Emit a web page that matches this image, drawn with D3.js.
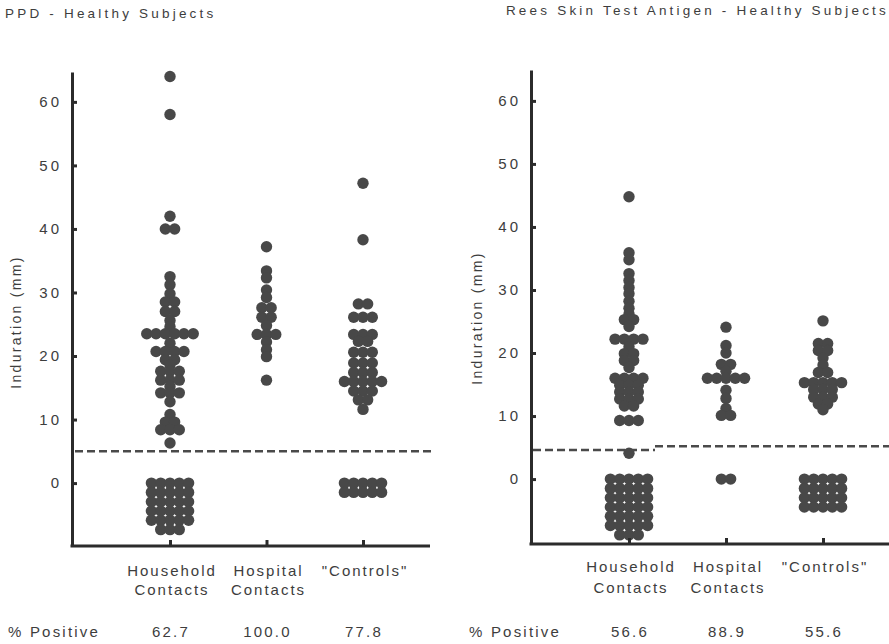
<!DOCTYPE html>
<html>
<head>
<meta charset="utf-8">
<script src="https://cdn.jsdelivr.net/npm/d3@7"></script>
<style>
    body { margin: 0; background: #fff; }
    svg text { font-family: "Liberation Sans", Arial, Helvetica, sans-serif; fill: #3d3d3d; }
</style>
</head>
<body>
<div class="container"></div>
<script>
/*
Dot plots of skin test induration (mm) for healthy subjects,
PPD on the left and Rees antigen on the right.
Zero readings are stacked in a grid below the 0 line.
*/

const width = 889;
const height = 644;

const groups = ['Household', 'Hospital', 'Controls'];
const groupLabels = [['Household', 'Contacts'], ['Hospital', 'Contacts'], ['"Controls"']];
const yTicks = [0, 10, 20, 30, 40, 50, 60];
const cutoff = 5;

// PPD readings (mm)
const ppdHousehold = [64, 58, 42, 40, 40, 32.5, 31.2, 29.8, 28.5, 28.5, 27, 27, 25.6, 24.6,
    23.5, 23.5, 23.5, 23.5, 23.5, 23.5, 22, 20.7, 20.7, 20.7, 20.7, 19.4, 19.4, 18.6,
    17.6, 17.6, 17.6, 16.2, 16.2, 16.2, 15.2, 14.2, 14.2, 14.2, 12.8, 10.8, 9.6, 9.6,
    8.4, 8.4, 8.4, 6.3,
    0, 0, 0, 0, 0, 0, 0, 0, 0, 0, 0, 0, 0, 0, 0, 0, 0, 0, 0, 0, 0, 0, 0, 0, 0, 0, 0, 0];
const ppdHospital = [37.2, 33.4, 32.3, 30.4, 29.2, 27.6, 27.6, 26.1, 26.1, 24.8, 23.4, 23.4,
    23.4, 22.2, 21, 19.9, 16.2];
const ppdControls = [47.2, 38.3, 28.2, 28.2, 26.1, 26.1, 26.1, 23.4, 23.4, 23.4, 22.3, 22.3,
    20.6, 20.6, 20.6, 18.9, 18.9, 18.9, 17.4, 17.4, 17.4, 16, 16, 16, 16, 16,
    14.5, 14.5, 14.5, 13.1, 13.1, 11.6,
    0, 0, 0, 0, 0, 0, 0, 0, 0, 0];
const ppdPositive = ['62.7', '100.0', '77.8'];

// Rees antigen readings (mm)
const reesHousehold = [44.8, 35.9, 34.8, 32.6, 31.5, 30.4, 29.4, 28.2, 27.1, 26.2, 25.3, 25.3,
    24.2, 22.2, 22.2, 22.2, 22.2, 21, 19.9, 19.9, 18.8, 18.8, 17.7, 16, 16, 16, 16,
    14.9, 14.9, 14.9, 13.8, 13.8, 13.8, 12.7, 12.7, 12.7, 11.6, 11.6, 9.3, 9.3, 9.3, 4.1,
    0, 0, 0, 0, 0, 0, 0, 0, 0, 0, 0, 0, 0, 0, 0, 0, 0, 0, 0, 0, 0, 0, 0, 0, 0, 0, 0, 0, 0, 0, 0, 0, 0];
const reesHospital = [24.1, 21.2, 20, 18.2, 18.2, 17.1, 16, 16, 16, 16, 16, 14.1, 12.8, 11.2,
    10.1, 10.1, 0, 0];
const reesControls = [25.1, 21.5, 21.5, 20.4, 20.4, 19.2, 18.1, 16.9, 16.9, 15.3, 15.3, 15.3,
    15.3, 15.3, 14.2, 14.2, 14.2, 13, 13, 13, 11.9, 11.9, 11,
    0, 0, 0, 0, 0, 0, 0, 0, 0, 0, 0, 0, 0, 0, 0, 0, 0, 0, 0, 0];
const reesPositive = ['56.6', '88.9', '55.6'];
// the printed cutoff line steps slightly between the first and second group
const reesCutoff = [4.6, 5.2];

const r = 5.7;
const step = 9.3;
const cols = 5;
const ink = '#2b2b2b';
const dotColor = '#484848';

const panels = [
    {
        title: 'PPD - Healthy Subjects', titleX: 5, titleY: 18, titleAnchor: 'start',
        axisX: 72, xEnd: 430, top: 72, bottom: 546, yDomain: [-9.9, 64.7],
        centers: [170, 363], data: [ppdHousehold, ppdHospital, ppdControls],
        positive: ppdPositive, labelY: [576, 595], posLabelX: 8, posY: 637, yLabelX: 21, yLabelY: 322,
        cutoffs: [{ v: cutoff, x0: 75, x1: 432 }],
    },
    {
        title: 'Rees Skin Test Antigen - Healthy Subjects', titleX: 889, titleY: 15, titleAnchor: 'end',
        axisX: 531, xEnd: 889, top: 70, bottom: 544, yDomain: [-10.3, 64.9],
        centers: [629, 823], data: [reesHousehold, reesHospital, reesControls],
        positive: reesPositive, labelY: [572, 593], posLabelX: 469, posY: 637, yLabelX: 482, yLabelY: 318,
        cutoffs: [{ v: reesCutoff[0], x0: 533, x1: 655 }, { v: reesCutoff[1], x0: 655, x1: 889 }],
    },
];

function layoutDots(values, cx, y) {
    const pts = [];
    d3.group(values.filter(v => v > 0), v => v).forEach((arr, v) => {
        arr.forEach((_, i) => pts.push({ x: cx + (i - (arr.length - 1) / 2) * step, y: y(v) }));
    });
    const zeros = values.filter(v => v === 0);
    zeros.forEach((_, i) => {
        const row = Math.floor(i / cols);
        const col = i % cols;
        const inRow = Math.min(cols, zeros.length - row * cols);
        pts.push({ x: cx + (col - (inRow - 1) / 2) * step, y: y(0) + row * step });
    });
    return pts;
}

function drawPanel(svg, p) {
    const y = d3.scaleLinear().domain(p.yDomain).range([p.bottom, p.top]);
    const x = d3.scalePoint().domain(groups).range(p.centers);
    const g = svg.append('g');

    g.append('text')
        .attr('x', p.titleX).attr('y', p.titleY)
        .attr('text-anchor', p.titleAnchor)
        .attr('font-size', 13.5).attr('letter-spacing', 3.2)
        .text(p.title);

    // cutoff line
    p.cutoffs.forEach(c => {
        g.append('line')
            .attr('x1', c.x0).attr('x2', c.x1)
            .attr('y1', y(c.v)).attr('y2', y(c.v))
            .attr('stroke', '#4a4a4a').attr('stroke-width', 2.5)
            .attr('stroke-dasharray', '8,4');
    });

    // dots
    groups.forEach((grp, i) => {
        g.selectAll(null)
            .data(layoutDots(p.data[i], x(grp), y))
            .enter()
            .append('circle')
            .attr('cx', d => d.x)
            .attr('cy', d => d.y)
            .attr('r', r)
            .attr('fill', dotColor);
    });

    // y axis
    g.append('g')
        .attr('transform', `translate(${p.axisX},0)`)
        .call(d3.axisLeft(y).tickValues(yTicks).tickSize(-5).tickSizeOuter(0).tickPadding(10))
        .call(a => a.select('.domain').attr('stroke', ink).attr('stroke-width', 3))
        .call(a => a.selectAll('.tick line').attr('stroke', ink).attr('stroke-width', 3))
        .call(a => a.selectAll('.tick text').attr('font-size', 15).attr('letter-spacing', 3));

    // x axis
    g.append('line')
        .attr('x1', p.axisX - 1.5).attr('x2', p.xEnd)
        .attr('y1', p.bottom).attr('y2', p.bottom)
        .attr('stroke', ink).attr('stroke-width', 3);
    g.append('g')
        .attr('transform', `translate(0,${p.bottom})`)
        .call(d3.axisBottom(x).tickSize(-6).tickSizeOuter(0).tickFormat(''))
        .call(a => a.select('.domain').remove())
        .call(a => a.selectAll('.tick line').attr('stroke', ink).attr('stroke-width', 3));

    // category labels and % positive
    groups.forEach((grp, i) => {
        groupLabels[i].forEach((line, j) => {
            g.append('text')
                .attr('x', x(grp) + 2)
                .attr('y', p.labelY[j])
                .attr('text-anchor', 'middle')
                .attr('font-size', 15).attr('letter-spacing', 2)
                .text(line);
        });
        g.append('text')
            .attr('x', x(grp) + 1)
            .attr('y', p.posY)
            .attr('text-anchor', 'middle')
            .attr('font-size', 15).attr('letter-spacing', 2.2)
            .text(p.positive[i]);
    });

    g.append('text')
        .attr('x', p.posLabelX).attr('y', p.posY)
        .attr('font-size', 15).attr('letter-spacing', 2.2)
        .text('% Positive');

    g.append('text')
        .attr('transform', `translate(${p.yLabelX},${p.yLabelY}) rotate(-90)`)
        .attr('text-anchor', 'middle')
        .attr('font-size', 14).attr('letter-spacing', 2.3)
        .text('Induration (mm)');
}

function draw() {
    const svg = d3.select('.container')
        .append('svg')
        .attr('width', width)
        .attr('height', height);

    panels.forEach(p => drawPanel(svg, p));
}

draw();
</script>
</body>
</html>
